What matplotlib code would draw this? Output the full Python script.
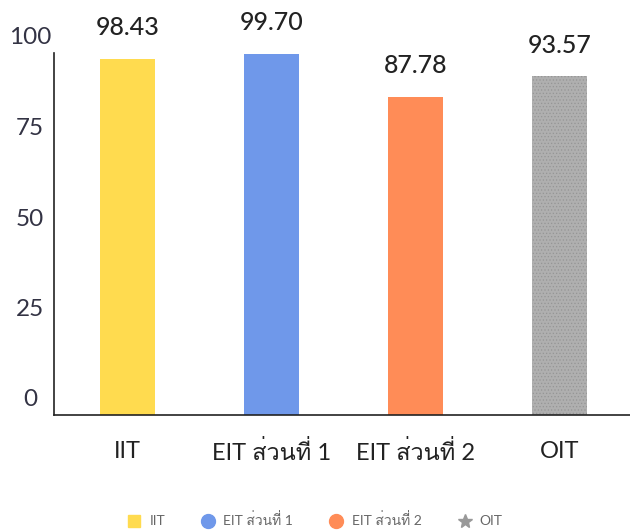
import matplotlib
matplotlib.use("Agg")
import matplotlib.pyplot as plt
from matplotlib import font_manager as fm
from matplotlib.ft2font import FT2Font
from matplotlib.lines import Line2D
from matplotlib.transforms import ScaledTranslation

# ---- data ----
categories = ["IIT", "EIT ส่วนที่ 1", "EIT ส่วนที่ 2", "OIT"]
values = [98.43, 99.70, 87.78, 93.57]
colors = ["#FFDB4F", "#6F98EA", "#FF8C57", "#AFAFAF"]
yticks = [0, 25, 50, 75, 100]


def find_thai_font():
    seen = set()
    for f in fm.fontManager.ttflist:
        if f.name in seen:
            continue
        try:
            cmap = FT2Font(f.fname).get_charmap()
        except Exception:
            continue
        if 0x0E2A in cmap and 0x0E48 in cmap and 0x0E19 in cmap:
            return f.name
        seen.add(f.name)
    return None


thai = find_thai_font()
fams = ["Lato"] + ([thai] if thai else []) + ["DejaVu Sans"]
plt.rcParams["font.family"] = fams
plt.rcParams["hatch.linewidth"] = 0.5

fig = plt.figure(figsize=(6.30, 5.31), dpi=100)
ax = fig.add_axes([54 / 630, (531 - 415) / 531, (630 - 54) / 630, (415 - 53) / 531])

x = list(range(len(categories)))
bars = ax.bar(x, values, width=0.38, color=colors, linewidth=0)
bars[3].set_hatch(".....")
bars[3].set_edgecolor("#959595")

for xi, v in zip(x, values):
    ax.annotate(f"{v:.2f}", (xi, v), xytext=(0, 22.5), textcoords="offset points",
                ha="center", va="center", fontsize=18, color="#222222",
                fontweight="medium")

ax.set_xlim(-0.51, 3.49)
ax.set_ylim(0, 100)

for s in ["top", "right"]:
    ax.spines[s].set_visible(False)
for s in ["left", "bottom"]:
    ax.spines[s].set_color("#222222")
    ax.spines[s].set_linewidth(1.2)

ax.set_yticks(yticks)
ax.set_yticklabels([str(t) for t in yticks], ha="center", fontsize=17.5, color="#333344")
ax.tick_params(axis="y", length=0, pad=17.3)
off = ScaledTranslation(0, 0.17, fig.dpi_scale_trans)
for lab in ax.get_yticklabels():
    lab.set_transform(lab.get_transform() + off)

ax.set_xticks(x)
ax.set_xticklabels(categories, va="center", fontsize=17, color="#222222")
ax.tick_params(axis="x", length=0, pad=26.5)

handles = [
    Line2D([], [], marker="s", linestyle="none", markersize=9, color=colors[0]),
    Line2D([], [], marker="o", linestyle="none", markersize=10, color=colors[1]),
    Line2D([], [], marker="o", linestyle="none", markersize=10, color=colors[2]),
    Line2D([], [], marker="*", linestyle="none", markersize=10, color="#999999"),
]
fig.legend(handles, categories, loc="center", bbox_to_anchor=(0.5, 1 - 520 / 531),
           ncol=4, frameon=False, fontsize=10, handlelength=1.0, handletextpad=0.6,
           columnspacing=2.6, labelcolor="#666666")

fig.savefig("out.png", dpi=100, facecolor="white")
